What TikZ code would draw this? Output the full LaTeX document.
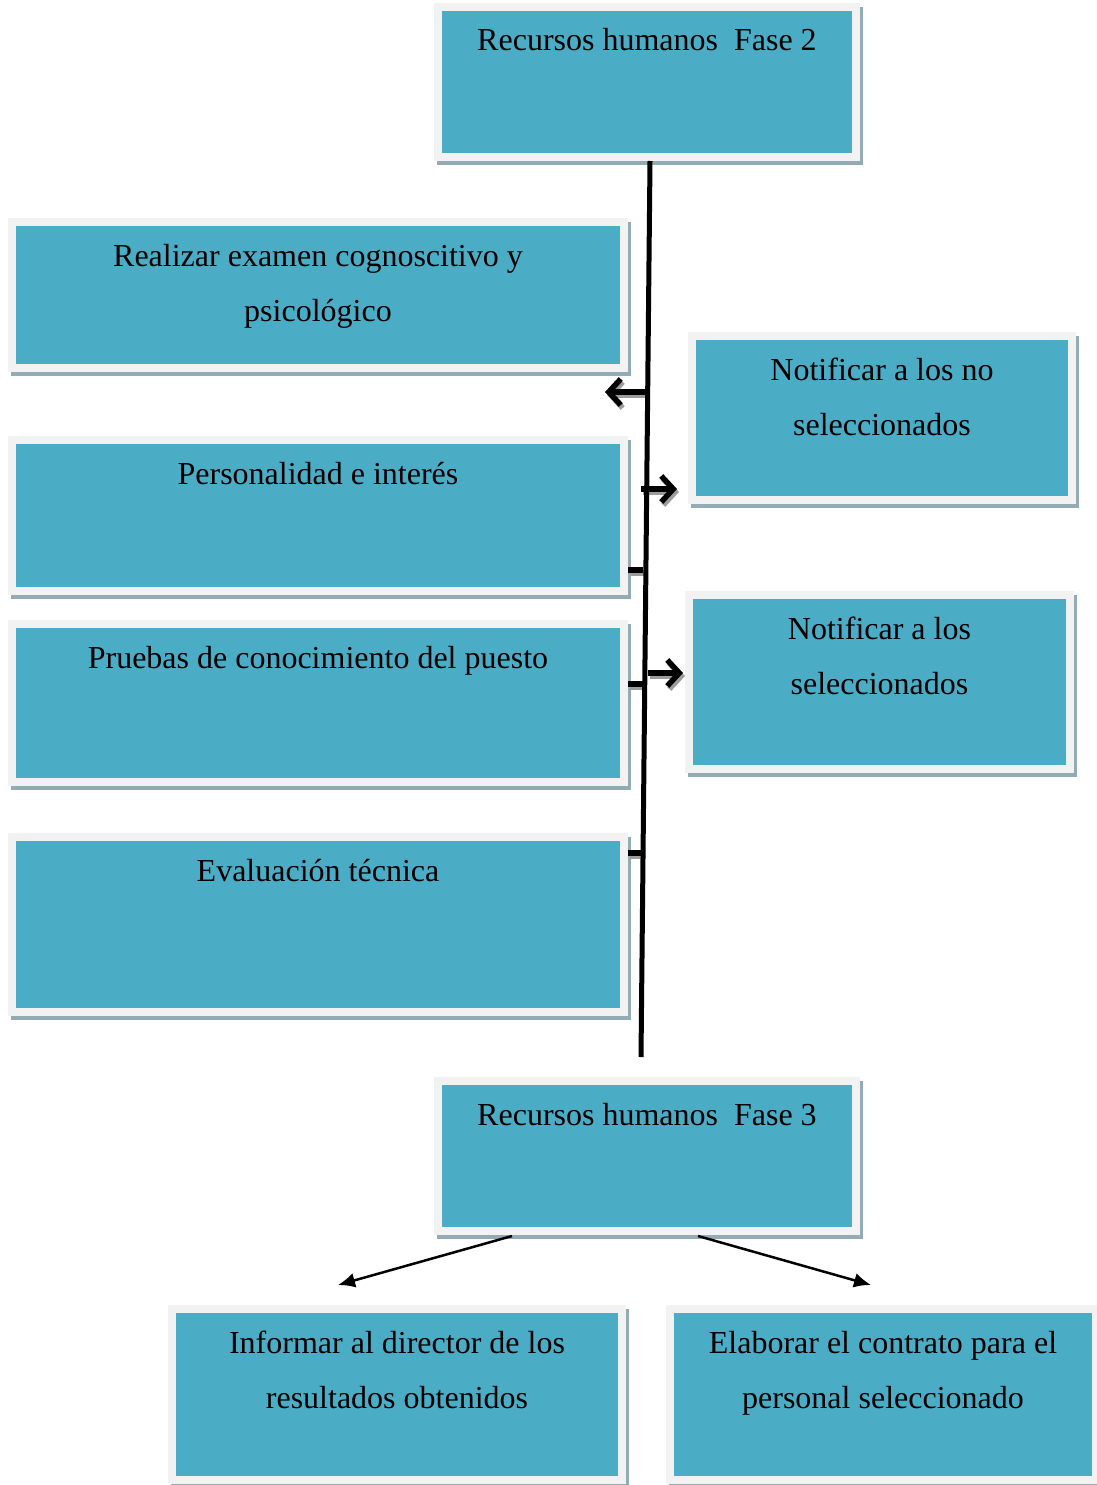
\documentclass[tikz,border=0pt]{standalone}
\usepackage{fontspec}
\setmainfont{Liberation Serif}
\usetikzlibrary{arrows.meta,backgrounds}
\definecolor{tealc}{HTML}{4BACC6}
\definecolor{framec}{HTML}{F2F2F2}
\definecolor{shadowc}{HTML}{93ABB5}
\definecolor{arrowshade}{HTML}{9C9C9C}
% card body: width, height, text (top aligned, centred)
\newcommand\cardtext[3]{\parbox[c][#2pt][t]{#1pt}{\centering\fontsize{32}{55}\selectfont\vspace*{1.5pt}\strut #3}}
\begin{document}
\begin{tikzpicture}[x=1pt,y=-1pt,
  card/.style={fill=tealc, draw=framec, line width=8pt, inner sep=4pt, outer sep=0pt},
  spinearrow/.style={line width=5.5pt, -{Straight Barb[length=12pt,width=26pt,line width=5.5pt]}},
  spinestub/.style={line width=5.5pt},
  shade/.style={arrowshade, transform canvas={shift={(2pt,-3pt)}}},
  branch/.style={line width=2.5pt, -{Latex[length=17pt,width=15pt]}}]
\useasboundingbox (0,0) rectangle (1096,1485);

% cards
\node[card] (fase2) at (647,82) {\cardtext{410}{142}{Recursos humanos~\ Fase 2}};
\node[card] (realizar) at (318,295) {\cardtext{604}{138}{Realizar examen cognoscitivo y\\psicológico}};
\node[card] (personalidad) at (318,515.5) {\cardtext{604}{143}{Personalidad e interés}};
\node[card] (pruebas) at (318,703) {\cardtext{604}{150}{Pruebas de conocimiento del puesto}};
\node[card] (evaluacion) at (318,924.5) {\cardtext{604}{167}{Evaluación técnica}};
\node[card] (notno) at (882,418) {\cardtext{372}{156}{Notificar a los no\\seleccionados}};
\node[card] (notsel) at (879.5,682) {\cardtext{373}{166}{Notificar a los\\seleccionados}};
\node[card] (fase3) at (647,1156) {\cardtext{410}{142}{Recursos humanos~\ Fase 3}};
\node[card] (informar) at (397,1394.5) {\cardtext{442}{163}{Informar al director de los\\resultados obtenidos}};
\node[card] (elaborar) at (883,1394.5) {\cardtext{418}{163}{Elaborar el contrato para el\\personal seleccionado}};

% card shadows
\begin{scope}[on background layer]
\foreach \n in {fase2,realizar,personalidad,pruebas,evaluacion,notno,notsel,fase3,informar,elaborar}
  \fill[shadowc] ([shift={(-1,0)}]\n.north west) rectangle ([shift={(7,8)}]\n.south east);
\end{scope}

% spine and its branch points
\coordinate (spineTop) at (650,161);
\coordinate (spineBot) at (641,1057);
\coordinate (outA) at (646,392);   \coordinate (tipA) at (605,392);
\coordinate (outB) at (641,489);   \coordinate (tipB) at (677,489);
\coordinate (stubC) at (628,570);  \coordinate (spineC) at (643,570);
\coordinate (outD) at (648,673);   \coordinate (tipD) at (683,673);
\coordinate (stubE) at (628,684);  \coordinate (spineE) at (643,684);
\coordinate (stubF) at (628,853);  \coordinate (spineF) at (642,853);

\begin{scope}[on background layer]
\draw[shade, spinearrow] (outA) -- (tipA);
\draw[shade, spinearrow] (outB) -- (tipB);
\draw[shade, spinearrow] (outD) -- (tipD);
\draw[shade, spinestub] (stubC) -- (spineC);
\draw[shade, spinestub] (stubE) -- (spineE);
\draw[shade, spinestub] (stubF) -- (spineF);
\end{scope}

\draw[line width=5pt] (spineTop) -- (spineBot);
\draw[spinearrow] (outA) -- (tipA);
\draw[spinearrow] (outB) -- (tipB);
\draw[spinearrow] (outD) -- (tipD);
\draw[spinestub] (stubC) -- (spineC);
\draw[spinestub] (stubE) -- (spineE);
\draw[spinestub] (stubF) -- (spineF);

% phase 3 branches
\coordinate (f3L) at (512,1236);  \coordinate (tipL) at (338,1285);
\coordinate (f3R) at (698,1236);  \coordinate (tipR) at (871,1285);
\draw[branch] (f3L) -- (tipL);
\draw[branch] (f3R) -- (tipR);
\end{tikzpicture}
\end{document}
